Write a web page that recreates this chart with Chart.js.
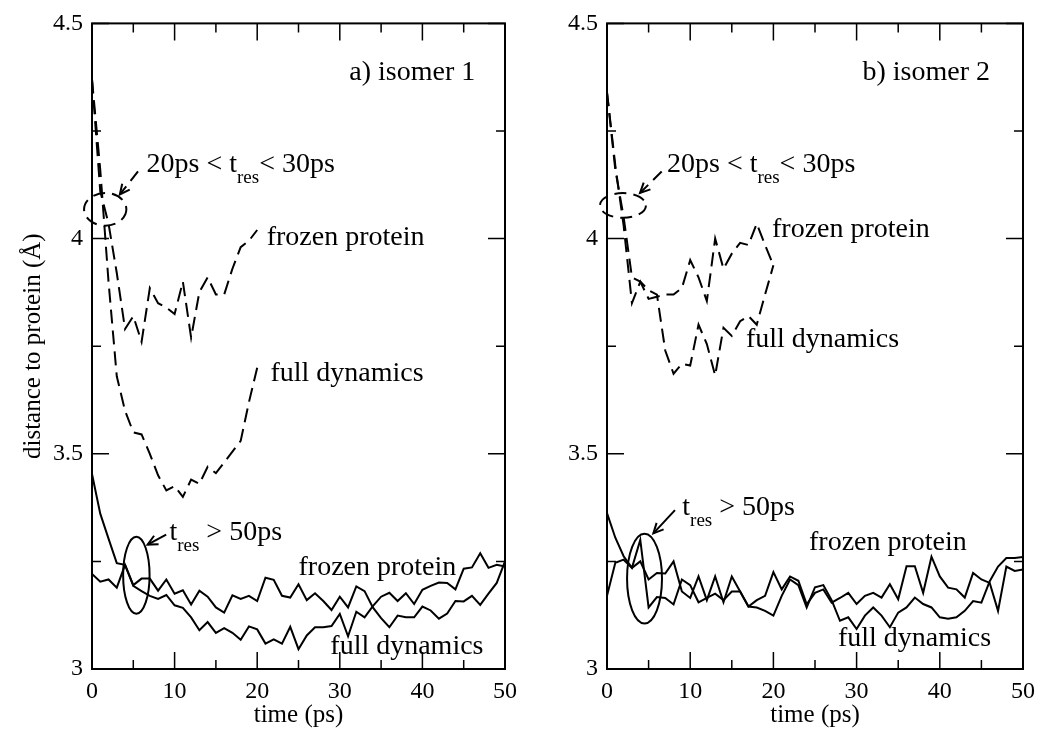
<!DOCTYPE html>
<html lang="en">
<head>
<meta charset="utf-8">
<title>distance to protein</title>
<script src="https://cdn.jsdelivr.net/npm/chart.js@4.4.0/dist/chart.umd.min.js"></script>
<style>
  body { margin: 0; background: #fff; }
  .wrap { position: relative; width: 1050px; height: 737px; }
  canvas { position: absolute; top: 0; }
</style>
</head>
<body>
<div class="wrap">
  <canvas id="left" width="525" height="737" style="left:0"></canvas>
  <canvas id="right" width="525" height="737" style="left:525px"></canvas>
</div>
<script>
// time axis (ps)
const time = [0,1,2,3,4,5,6,7,8,9,10,11,12,13,14,15,16,17,18,19,20,21,22,23,24,25,
  26,27,28,29,30,31,32,33,34,35,36,37,38,39,40,41,42,43,44,45,46,47,48,49,50];
const timeShort = [0,1,2,3,4,5,6,7,8,9,10,11,12,13,14,15,16,17,18,19,20];

// a) isomer 1, 20ps < t_res < 30ps (dashed)
const iso1ShortFrozen = [4.37,4.11,4.035,3.92,3.79,3.82,3.76,3.885,3.85,3.84,3.825,
  3.90,3.77,3.876,3.91,3.87,3.87,3.93,3.98,3.995,4.02];
const iso1ShortFull = [4.37,4.16,3.90,3.68,3.60,3.55,3.545,3.50,3.45,3.415,3.425,
  3.40,3.44,3.43,3.47,3.455,3.48,3.505,3.53,3.62,3.70];
// a) isomer 1, t_res > 50ps (solid)
const iso1LongFrozen = [3.221,3.203,3.208,3.189,3.242,3.195,3.210,3.210,3.182,3.208,3.175,
  3.183,3.150,3.182,3.168,3.143,3.131,3.171,3.163,3.170,3.158,3.212,3.207,3.170,3.166,3.197,
  3.160,3.176,3.158,3.137,3.168,3.143,3.192,3.181,3.143,3.118,3.097,3.124,3.120,3.120,3.145,
  3.136,3.117,3.129,3.158,3.157,3.170,3.149,3.175,3.200,3.250];
const iso1LongFull = [3.453,3.361,3.303,3.246,3.242,3.193,3.181,3.170,3.163,3.172,3.148,
  3.142,3.120,3.090,3.109,3.084,3.095,3.084,3.068,3.099,3.092,3.059,3.069,3.059,3.098,3.046,
  3.078,3.097,3.097,3.100,3.128,3.076,3.133,3.120,3.146,3.168,3.177,3.158,3.176,3.151,3.184,
  3.193,3.201,3.200,3.185,3.233,3.236,3.269,3.235,3.242,3.238];

// b) isomer 2, 20ps < t_res < 30ps (dashed)
const iso2ShortFrozen = [4.34,4.17,4.03,3.85,3.90,3.86,3.865,3.87,3.87,3.885,3.95,
  3.91,3.855,4.00,3.93,3.965,3.99,3.985,4.035,3.985,3.938];
const iso2ShortFull = [4.34,4.16,4.05,3.91,3.90,3.88,3.87,3.74,3.686,3.709,3.705,
  3.80,3.755,3.682,3.793,3.774,3.808,3.82,3.80,3.87,3.938];
// b) isomer 2, t_res > 50ps (solid)
const iso2LongFrozen = [3.170,3.247,3.254,3.235,3.250,3.208,3.223,3.222,3.250,3.180,3.165,
  3.215,3.160,3.215,3.155,3.215,3.180,3.145,3.160,3.170,3.225,3.185,3.215,3.205,3.150,3.177,
  3.185,3.154,3.165,3.177,3.151,3.170,3.177,3.166,3.197,3.162,3.239,3.239,3.177,3.261,3.215,
  3.189,3.185,3.166,3.223,3.208,3.200,3.135,3.238,3.228,3.231];
const iso2LongFull = [3.362,3.305,3.262,3.235,3.300,3.143,3.167,3.165,3.150,3.208,3.195,
  3.155,3.165,3.175,3.160,3.180,3.180,3.145,3.143,3.135,3.124,3.170,3.208,3.195,3.143,3.190,
  3.195,3.160,3.112,3.120,3.093,3.124,3.143,3.124,3.097,3.131,3.143,3.166,3.151,3.143,3.120,
  3.117,3.120,3.135,3.158,3.154,3.204,3.238,3.258,3.258,3.260];

// ticks
const xTicks = [0,10,20,30,40,50];
const xMinor = [5,15,25,35,45];
const yTicks = [3,3.5,4,4.5];
const yMinor = [3.25,3.75,4.25];

const SERIF = '"Liberation Serif", "Times New Roman", serif';
Chart.defaults.font.family = SERIF;
Chart.defaults.color = '#000';

function pts(xs, ys) {
  return ys.map((v, i) => ({ x: xs[i], y: v }));
}

function line(xs, ys, dashed) {
  return {
    data: pts(xs, ys),
    borderColor: '#000',
    borderWidth: 2,
    borderDash: dashed ? [14, 7] : [],
    pointRadius: 0,
    tension: 0,
    fill: false
  };
}

// frame, inward ticks on all sides, and the text / ellipse / arrow notes
const framePlugin = {
  id: 'frame',
  afterDatasetsDraw(chart, args, opts) {
    const { ctx, chartArea: a, scales: { x, y } } = chart;
    ctx.save();
    ctx.strokeStyle = '#000';
    ctx.setLineDash([]);
    ctx.lineWidth = 2;
    ctx.strokeRect(a.left, a.top, a.right - a.left, a.bottom - a.top);

    ctx.lineWidth = 1.5;
    const tickX = (vals, len) => vals.forEach(v => {
      const px = x.getPixelForValue(v);
      ctx.beginPath();
      ctx.moveTo(px, a.bottom); ctx.lineTo(px, a.bottom - len);
      ctx.moveTo(px, a.top); ctx.lineTo(px, a.top + len);
      ctx.stroke();
    });
    const tickY = (vals, len) => vals.forEach(v => {
      const py = y.getPixelForValue(v);
      ctx.beginPath();
      ctx.moveTo(a.left, py); ctx.lineTo(a.left + len, py);
      ctx.moveTo(a.right, py); ctx.lineTo(a.right - len, py);
      ctx.stroke();
    });
    tickX(xTicks, 17); tickX(xMinor, 9);
    tickY(yTicks, 17); tickY(yMinor, 9);

    (opts.notes || []).forEach(n => {
      ctx.setLineDash(n.dash ? [12, 7] : []);
      ctx.lineWidth = 2;
      if (n.type === 'ellipse') {
        const cx = x.getPixelForValue(n.x), cy = y.getPixelForValue(n.y);
        const rx = Math.abs(x.getPixelForValue(n.x + n.rx) - cx);
        const ry = Math.abs(y.getPixelForValue(n.y + n.ry) - cy);
        ctx.beginPath();
        ctx.ellipse(cx, cy, rx, ry, 0, 0, Math.PI * 2);
        ctx.stroke();
      } else if (n.type === 'arrow') {
        const x1 = x.getPixelForValue(n.x1), y1 = y.getPixelForValue(n.y1);
        const x2 = x.getPixelForValue(n.x2), y2 = y.getPixelForValue(n.y2);
        ctx.beginPath();
        ctx.moveTo(x1, y1); ctx.lineTo(x2, y2);
        ctx.stroke();
        const ang = Math.atan2(y2 - y1, x2 - x1);
        ctx.setLineDash([]);
        ctx.beginPath();
        ctx.moveTo(x2 - 11 * Math.cos(ang - 0.45), y2 - 11 * Math.sin(ang - 0.45));
        ctx.lineTo(x2, y2);
        ctx.lineTo(x2 - 11 * Math.cos(ang + 0.45), y2 - 11 * Math.sin(ang + 0.45));
        ctx.stroke();
      } else if (n.type === 'text') {
        ctx.fillStyle = '#000';
        ctx.textBaseline = 'alphabetic';
        const parts = n.parts || [{ t: n.text }];
        const fontFor = p => (p.sub ? '19px ' : '28px ') + SERIF;
        let w = 0;
        parts.forEach(p => { ctx.font = fontFor(p); w += ctx.measureText(p.t).width; });
        let px = x.getPixelForValue(n.x);
        if (n.align === 'right') px -= w;
        const py = y.getPixelForValue(n.y);
        ctx.textAlign = 'left';
        parts.forEach(p => {
          ctx.font = fontFor(p);
          ctx.fillText(p.t, px, py + (p.sub ? 11 : 0));
          px += ctx.measureText(p.t).width;
        });
      }
    });
    ctx.restore();
  }
};

const shortLabel = [{ t: '20ps < t' }, { t: 'res', sub: true }, { t: '< 30ps' }];
const longLabel = [{ t: 't' }, { t: 'res', sub: true }, { t: ' > 50ps' }];

const notes1 = [
  { type: 'text', x: 46.4, y: 4.369, text: 'a) isomer 1', align: 'right' },
  { type: 'text', x: 6.6, y: 4.154, parts: shortLabel },
  { type: 'arrow', x1: 5.57, y1: 4.156, x2: 3.37, y2: 4.1025, dash: true },
  { type: 'ellipse', x: 1.6, y: 4.068, rx: 2.56, ry: 0.038, dash: true },
  { type: 'text', x: 21.15, y: 3.984, text: 'frozen protein' },
  { type: 'text', x: 21.6, y: 3.670, text: 'full dynamics' },
  { type: 'text', x: 9.375, y: 3.300, parts: longLabel },
  { type: 'arrow', x1: 8.98, y1: 3.312, x2: 6.73, y2: 3.289 },
  { type: 'ellipse', x: 5.37, y: 3.218, rx: 1.6, ry: 0.0894 },
  { type: 'text', x: 25.0, y: 3.2195, text: 'frozen protein' },
  { type: 'text', x: 28.85, y: 3.036, text: 'full dynamics' }
];

const notes2 = [
  { type: 'text', x: 46.03, y: 4.369, text: 'b) isomer 2', align: 'right' },
  { type: 'text', x: 7.21, y: 4.154, parts: shortLabel },
  { type: 'arrow', x1: 6.57, y1: 4.156, x2: 3.97, y2: 4.106, dash: true },
  { type: 'ellipse', x: 1.92, y: 4.077, rx: 2.76, ry: 0.0287, dash: true },
  { type: 'text', x: 19.83, y: 4.003, text: 'frozen protein' },
  { type: 'text', x: 16.7, y: 3.747, text: 'full dynamics' },
  { type: 'text', x: 9.05, y: 3.357, parts: longLabel },
  { type: 'arrow', x1: 8.17, y1: 3.369, x2: 5.57, y2: 3.315 },
  { type: 'ellipse', x: 4.51, y: 3.210, rx: 2.1, ry: 0.104 },
  { type: 'text', x: 24.28, y: 3.277, text: 'frozen protein' },
  { type: 'text', x: 27.76, y: 3.053, text: 'full dynamics' }
];

function makeChart(id, datasets, notes, yTitle, axisWidth, rightPad) {
  return new Chart(document.getElementById(id), {
    type: 'line',
    data: { datasets },
    options: {
      responsive: false,
      animation: false,
      devicePixelRatio: 1,
      layout: { padding: { top: 15, right: rightPad, left: 0, bottom: 0 } },
      plugins: {
        legend: { display: false },
        tooltip: { enabled: false },
        frame: { notes }
      },
      scales: {
        x: {
          type: 'linear', min: 0, max: 50,
          grid: { display: false, drawTicks: false },
          border: { display: false },
          afterBuildTicks: s => { s.ticks = xTicks.map(v => ({ value: v })); },
          ticks: { padding: 8, font: { size: 24 }, color: '#000', maxRotation: 0, autoSkip: false },
          title: { display: true, text: 'time (ps)', font: { size: 25 }, color: '#000',
                   padding: { top: 0, bottom: 7 } },
          afterFit: s => { s.height = 68; }
        },
        y: {
          type: 'linear', min: 3, max: 4.5,
          grid: { display: false, drawTicks: false },
          border: { display: false },
          afterBuildTicks: s => { s.ticks = yTicks.map(v => ({ value: v })); },
          ticks: { padding: 9, font: { size: 24 }, color: '#000', callback: v => String(v) },
          title: { display: !!yTitle, text: yTitle || '', font: { size: 25 }, color: '#000',
                   padding: { top: 18, bottom: 0 } },
          afterFit: s => { s.width = axisWidth; }
        }
      }
    },
    plugins: [framePlugin]
  });
}

makeChart('left', [
  line(timeShort, iso1ShortFrozen, true),
  line(timeShort, iso1ShortFull, true),
  line(time, iso1LongFrozen, false),
  line(time, iso1LongFull, false)
], notes1, 'distance to protein (Å)', 92, 17);

makeChart('right', [
  line(timeShort, iso2ShortFrozen, true),
  line(timeShort, iso2ShortFull, true),
  line(time, iso2LongFrozen, false),
  line(time, iso2LongFull, false)
], notes2, null, 82, 27);
</script>
</body>
</html>
